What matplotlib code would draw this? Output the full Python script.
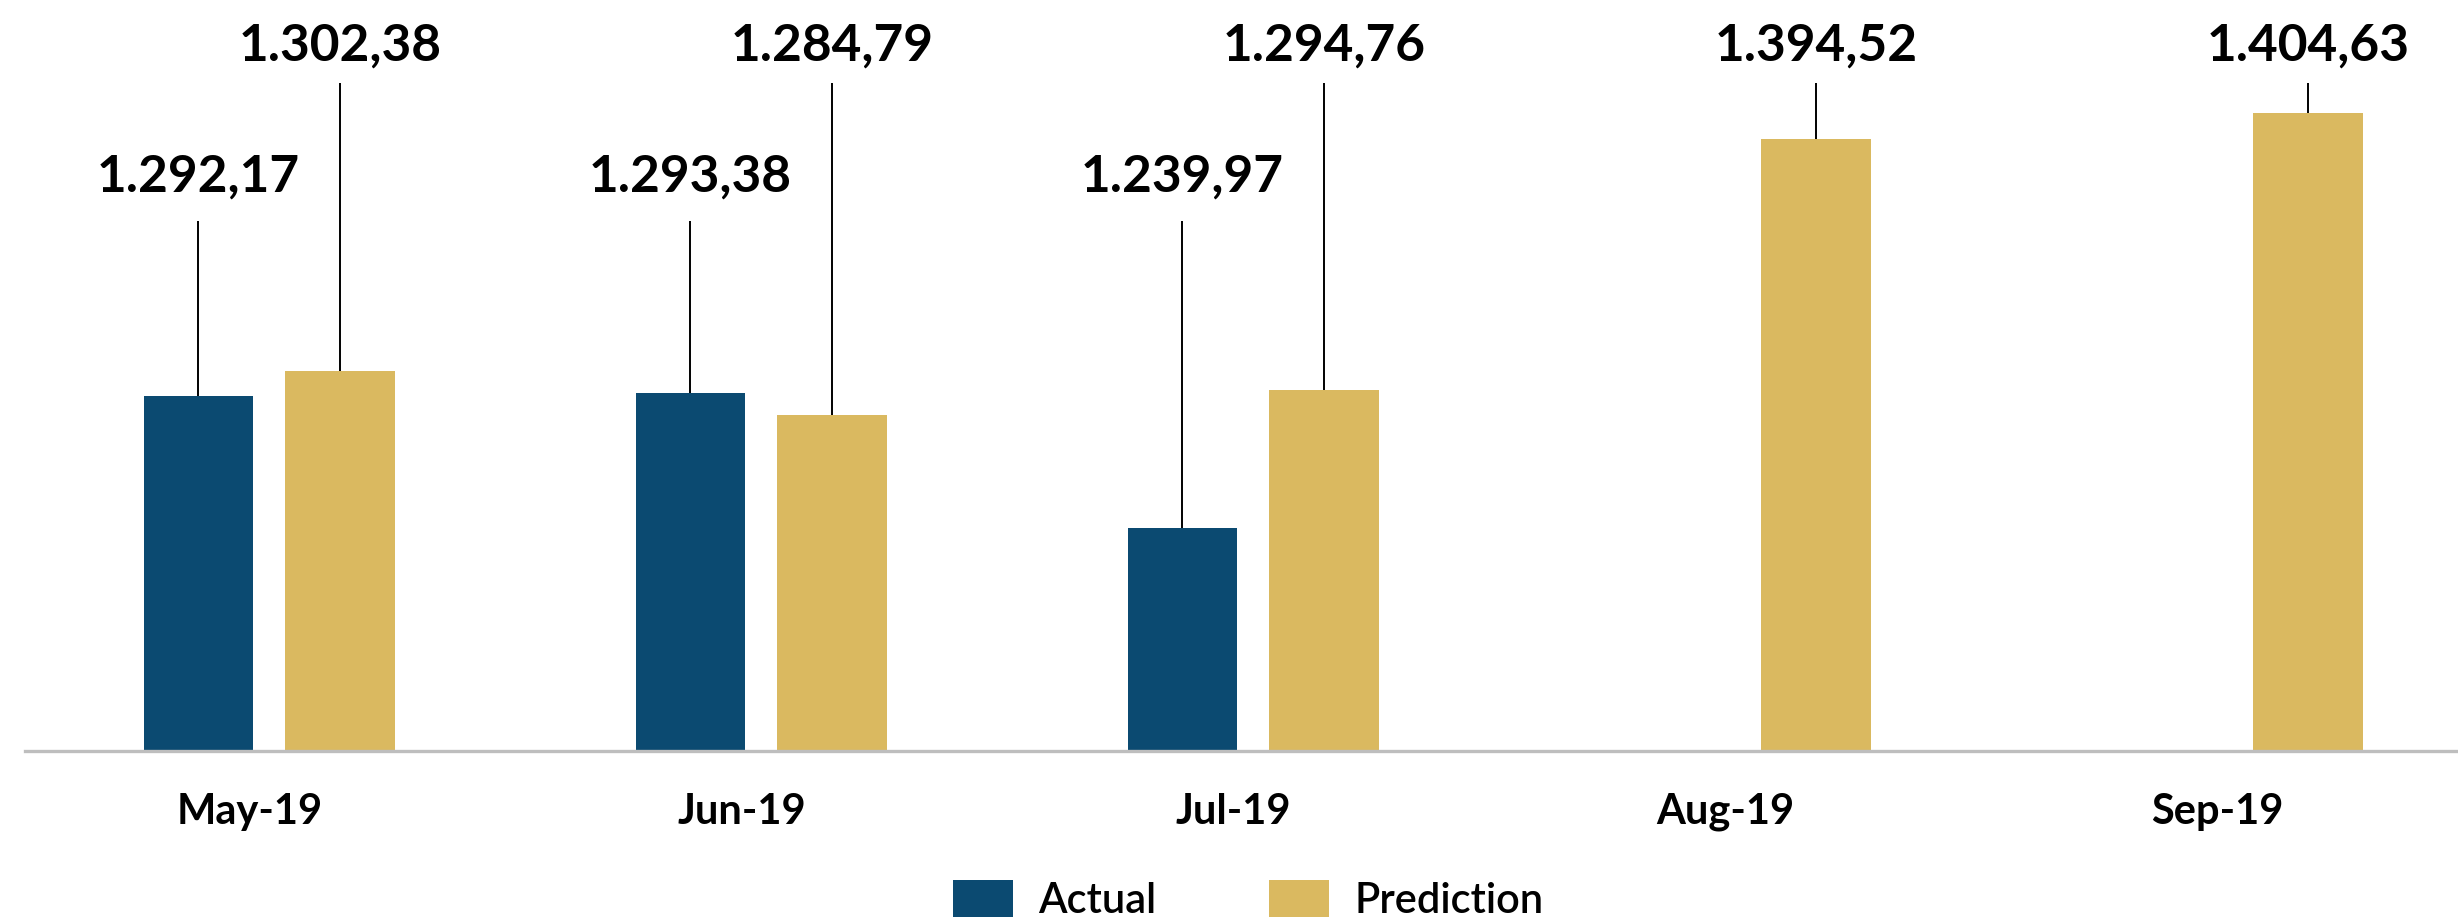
import numpy as np
import matplotlib
matplotlib.use("Agg")
import matplotlib.pyplot as plt

# ---- data ----
months = ["May-19", "Jun-19", "Jul-19", "Aug-19", "Sep-19"]
actual = [1292.17, 1293.38, 1239.97, np.nan, np.nan]
prediction = [1302.38, 1284.79, 1294.76, 1394.52, 1404.63]
actual_labels = ["1.292,17", "1.293,38", "1.239,97", "", ""]
prediction_labels = ["1.302,38", "1.284,79", "1.294,76", "1.394,52", "1.404,63"]

NAVY = "#0B4A71"
GOLD = "#DAB960"

plt.rcParams["font.family"] = ["Lato", "DejaVu Sans"]

W, H = 2458, 919
fig = plt.figure(figsize=(W / 100, H / 100), dpi=100)
ax = fig.add_axes([25 / W, 168 / H, 1 - 25 / W, 751 / H])

x = np.arange(len(months))
off = 0.144
bw = 0.222
ymin = 1151.2
ymax = ymin + 298.4

ax.bar(x - off, actual, bw, color=NAVY, label="Actual", zorder=2)
ax.bar(x + off, prediction, bw, color=GOLD, label="Prediction", zorder=2)

act_line_top = 1361.8
pred_line_top = 1416.6
act_text_y = 1373.3
pred_text_y = 1425.4

tick_pos = []
for i in range(len(months)):
    if not np.isnan(actual[i]):
        tick_pos.append(x[i] - off)
        ax.vlines(x[i] - off, actual[i], act_line_top, color="black", lw=1.4, zorder=1)
        ax.text(x[i] - off, act_text_y, actual_labels[i], ha="center", va="baseline",
                fontsize=37, fontweight="bold", color="black", clip_on=False)
    tick_pos.append(x[i] + off)
    ax.vlines(x[i] + off, prediction[i], pred_line_top, color="black", lw=1.4, zorder=1)
    ax.text(x[i] + off, pred_text_y, prediction_labels[i], ha="center", va="baseline",
            fontsize=37, fontweight="bold", color="black", clip_on=False)

ax.set_xlim(-0.496, 4.449)
ax.set_ylim(ymin, ymax)

for s in ["top", "right", "left"]:
    ax.spines[s].set_visible(False)
ax.spines["bottom"].set_color("#BEBEBE")
ax.spines["bottom"].set_linewidth(2.4)

ax.set_yticks([])
ax.set_xticks(x - 0.04)
ax.set_xticklabels(months, fontsize=30, fontweight="bold")
ax.tick_params(axis="x", which="major", length=0, pad=30)
ax.set_xticks(tick_pos, minor=True)
ax.tick_params(axis="x", which="minor", length=3, width=1, color="#333333", direction="in")

fig.legend(loc="upper left", bbox_to_anchor=(953 / W, 1 - 880 / H), ncol=2, frameon=False,
           prop={"family": ["Lato", "DejaVu Sans"], "size": 30, "weight": 600},
           borderpad=0, handlelength=1.45, handleheight=1.0,
           handletextpad=0.6, columnspacing=2.7, borderaxespad=0)

fig.savefig("out.png", dpi=100)
